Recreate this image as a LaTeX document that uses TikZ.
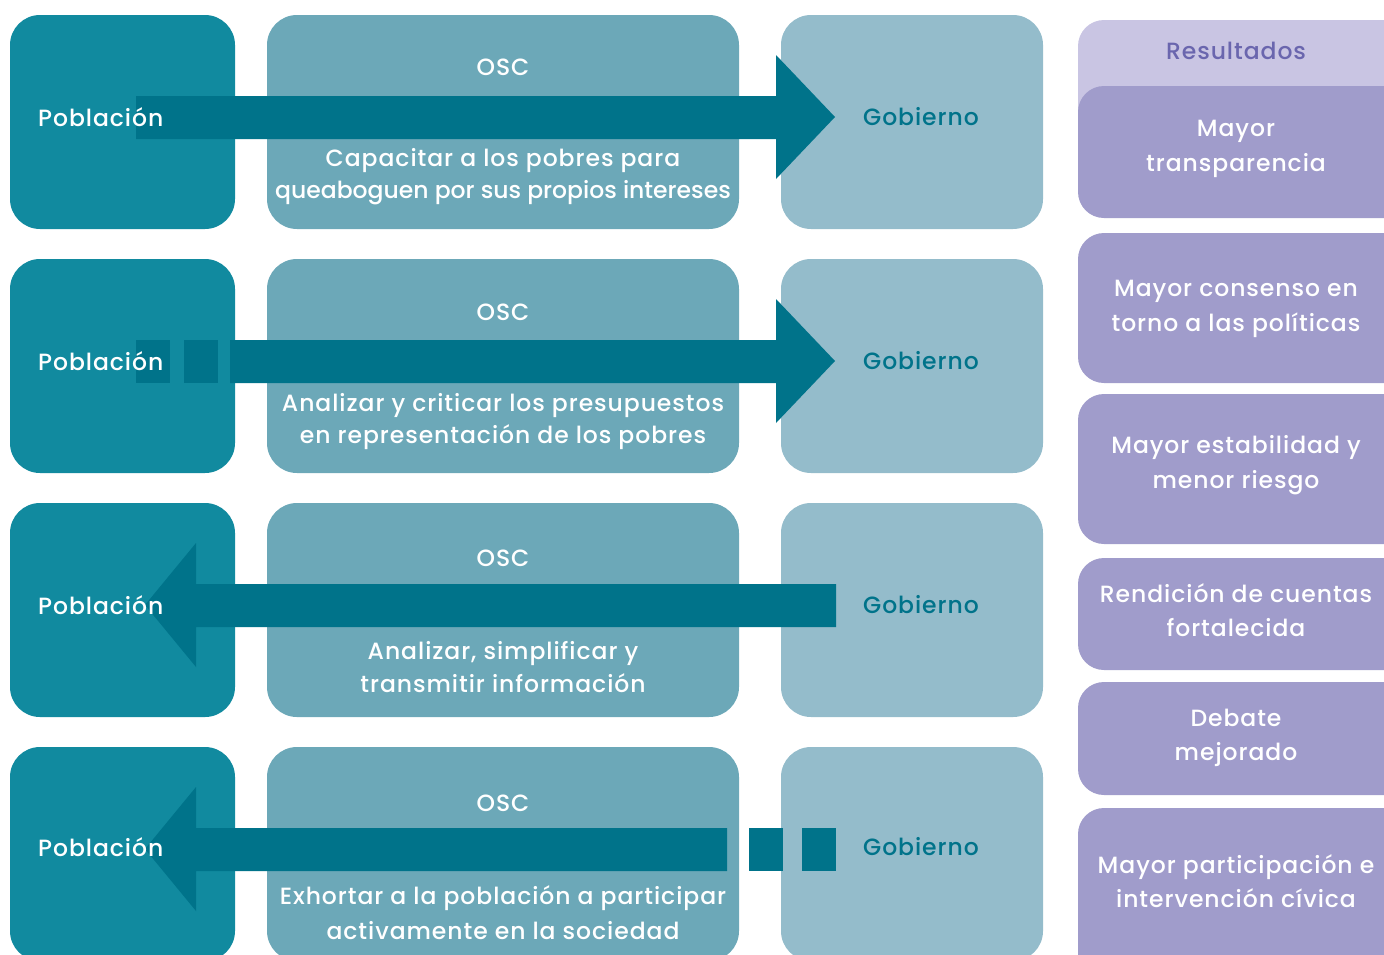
\documentclass[tikz,border=0pt]{standalone}
\usepackage{fontspec}
\setmainfont{Poppins}[UprightFont=* Medium, LetterSpace=4]
\usetikzlibrary{fit}
\definecolor{pobl}{HTML}{118A9F}
\definecolor{osc}{HTML}{6CA8B8}
\definecolor{gob}{HTML}{94BCCB}
\definecolor{arr}{HTML}{00738A}
\definecolor{reshead}{HTML}{C9C5E3}
\definecolor{resbox}{HTML}{A09CCB}
\definecolor{restext}{HTML}{6A66AE}
\tikzset{
  box/.style={rectangle, rounded corners=30pt, inner sep=0pt, draw=none},
  pbox/.style={box, fill=pobl},
  obox/.style={box, fill=osc},
  gbox/.style={box, fill=gob},
  rbox/.style={rectangle, rounded corners=26pt, inner sep=0pt, fill=resbox},
  rhead/.style={rectangle, rounded corners=26pt, inner sep=0pt, fill=reshead},
  wtxt/.style={text=white, font=\fontsize{23.5}{32.5}\selectfont, align=center, inner sep=0pt},
  gtxt/.style={text=arr, font=\fontsize{23.5}{33}\selectfont, inner sep=0pt},
  rtxt/.style={text=white, font=\fontsize{23.5}{34.5}\selectfont, align=center, inner sep=0pt},
  arrfill/.style={fill=arr, draw=none},
}
\newcommand{\boxat}[6]{% name, style, x1, y1, x2, y2
  \path (#3,#4) coordinate (#1-nw) (#5,#6) coordinate (#1-se);
  \node[#2, fit=(#1-nw)(#1-se)] (#1) {};}
\begin{document}
\begin{tikzpicture}[x=1pt,y=-1pt]
\useasboundingbox (0,0) rectangle (1384,954);
\begin{scope}
\clip (0,0) rectangle (1384,954);
% row boxes
\foreach \r/\t in {1/15,2/259,3/503,4/747}{
  \pgfmathsetmacro{\b}{\t+214}
  \boxat{p\r}{pbox}{10}{\t}{235}{\b}
  \boxat{o\r}{obox}{267}{\t}{739}{\b}
  \boxat{g\r}{gbox}{781}{\t}{1043}{\b}
}
% results column
\boxat{rh}{rhead}{1078}{20}{1410}{150}
\boxat{r1}{rbox}{1078}{86}{1410}{218}
\boxat{r2}{rbox}{1078}{233}{1410}{383}
\boxat{r3}{rbox}{1078}{394}{1410}{544}
\boxat{r4}{rbox}{1078}{558}{1410}{670}
\boxat{r5}{rbox}{1078}{682}{1410}{795}
\boxat{r6}{rbox}{1078}{808}{1410}{990}
\end{scope}
% arrows
% row 1: Poblacion -> Gobierno
\fill[arrfill] (136,96) -- (776,96) -- (776,55) -- (835,117) -- (776,179) -- (776,139) -- (136,139) -- cycle;
% row 2: dashed start
\fill[arrfill] (136,340) rectangle (170,383);
\fill[arrfill] (184,340) rectangle (218,383);
\fill[arrfill] (230,340) -- (776,340) -- (776,299) -- (835,361) -- (776,423) -- (776,383) -- (230,383) -- cycle;
% row 3: Gobierno -> Poblacion
\fill[arrfill] (836,584) -- (196,584) -- (196,543) -- (145,605) -- (196,667) -- (196,627) -- (836,627) -- cycle;
% row 4: dashed start from Gobierno
\fill[arrfill] (727,828) -- (196,828) -- (196,787) -- (145,849) -- (196,911) -- (196,871) -- (727,871) -- cycle;
\fill[arrfill] (749,828) rectangle (783,871);
\fill[arrfill] (802,828) rectangle (836,871);
% texts
\foreach \r/\y in {1/117,2/361,3/605,4/847}{
  \node[wtxt, anchor=west] (pt\r) at (38,\y) {Población};
  \node[gtxt] (gt\r) at (921,\y) {Gobierno};
}
\foreach \r/\y in {1/67,2/312,3/558,4/803}{
  \node[wtxt] (ot\r) at (503,\y) {OSC};
}
\node[wtxt] (od1) at (503,176.5) {Capacitar a los pobres para\\{\addfontfeature{LetterSpace=0}queaboguen por sus propios intereses}};
\node[wtxt] (od2) at (503,421.5) {Analizar y criticar los presupuestos\\en representación de los pobres};
\node[wtxt] (od3) at (503,667) {Analizar, simplificar y\\transmitir información};
\node[wtxt, font=\fontsize{23.5}{34.5}\selectfont] (od4) at (503,912.5) {Exhortar a la población a participar\\activamente en la sociedad};
\node[text=restext, font=\fontsize{23.5}{28}\selectfont, inner sep=0pt] (rht) at (1236,51) {Resultados};
\node[rtxt] (rt1) at (1236,149) {Mayor\\transparencia};
\node[rtxt] (rt2) at (1236,309) {Mayor consenso en\\torno a las políticas};
\node[rtxt] (rt3) at (1236,465) {Mayor estabilidad y\\menor riesgo};
\node[rtxt] (rt4) at (1236,610) {Rendición de cuentas\\fortalecida};
\node[rtxt] (rt5) at (1236,738) {Debate\\mejorado};
\node[rtxt] (rt6) at (1236,881) {Mayor participación e\\intervención cívica};
\end{tikzpicture}
\end{document}
